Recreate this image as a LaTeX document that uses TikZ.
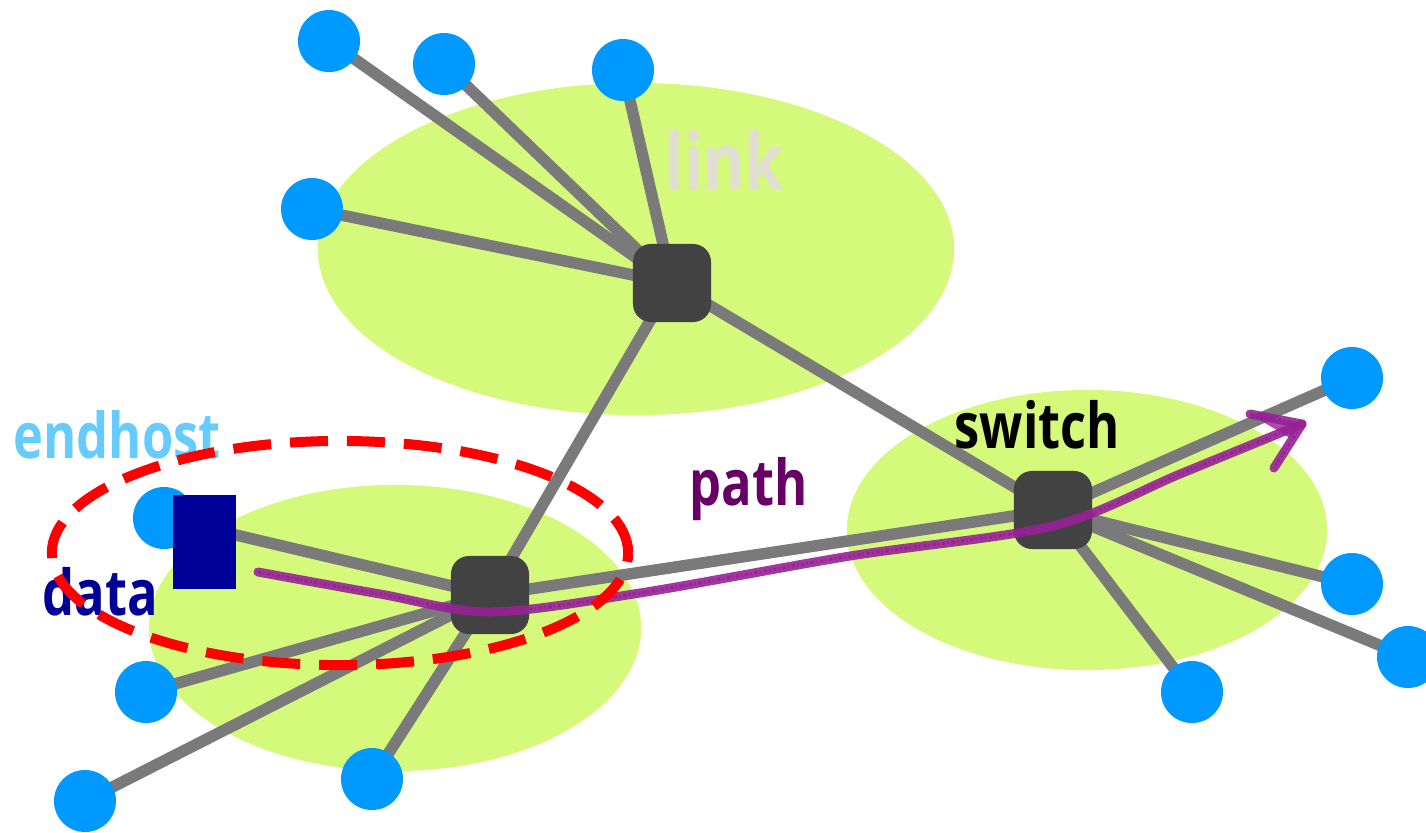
\documentclass[tikz,border=0pt]{standalone}
\usepackage{fontspec}
\newfontfamily\labelfont[FakeStretch=0.8]{Open Sans}

\definecolor{regiongreen}{RGB}{213,249,122}
\definecolor{hostblue}{RGB}{0,153,255}
\definecolor{switchgray}{RGB}{66,66,66}
\definecolor{wiregray}{RGB}{122,122,122}
\definecolor{datanavy}{RGB}{0,0,153}
\definecolor{endhostblue}{RGB}{102,204,255}
\definecolor{pathlabel}{RGB}{102,0,102}
\definecolor{linklabel}{RGB}{226,222,212}
\definecolor{pencil}{RGB}{150,34,150}

\begin{document}
\begin{tikzpicture}[x=0.01cm, y=-0.01cm,
  host/.style={circle, fill=hostblue, minimum size=0.62cm, inner sep=0pt},
  switchbox/.style={rectangle, rounded corners=0.18cm, fill=switchgray,
    minimum size=0.78cm, inner sep=0pt},
  wire/.style={draw=wiregray, line width=0.115cm},
  label/.style={inner sep=0pt, anchor=base west, font=\labelfont\bfseries\fontsize{18pt}{20pt}\selectfont},
  pencilstroke/.style={draw=pencil, line cap=round, line join=round},
  grain/.style={draw=pencil, line width=0.028cm, dash pattern=on 0.9pt off 0.6pt on 0.4pt off 0.8pt, opacity=0.7}
]
\useasboundingbox (0,0) rectangle (1426,832);
\clip (0,0) rectangle (1426,832);

% network regions
\fill[regiongreen] (636,249) ellipse [x radius=3.18cm, y radius=1.66cm];
\fill[regiongreen] (395,628) ellipse [x radius=2.46cm, y radius=1.43cm];
\fill[regiongreen] (1087,530) ellipse [x radius=2.40cm, y radius=1.40cm];

\node[label, text=linklabel, font=\labelfont\bfseries\fontsize{22.5pt}{24pt}\selectfont] (linktext) at (664,190) {link};

% switch and host positions
\coordinate (sA) at (672,283);
\coordinate (sB) at (490,595);
\coordinate (sC) at (1053,510);

\coordinate (hA1) at (329,41);
\coordinate (hA2) at (444,64);
\coordinate (hA3) at (623,70);
\coordinate (hA4) at (312,209);
\coordinate (hB1) at (164,518);
\coordinate (hB2) at (146,692);
\coordinate (hB3) at (85,801);
\coordinate (hB4) at (372,779);
\coordinate (hC1) at (1352,378);
\coordinate (hC2) at (1352,584);
\coordinate (hC3) at (1408,657);
\coordinate (hC4) at (1192,692);

% links
\foreach \h in {hA1,hA2,hA3,hA4} \draw[wire] (\h) -- (sA);
\foreach \h in {hB1,hB2,hB3,hB4} \draw[wire] (\h) -- (sB);
\foreach \h in {hC1,hC2,hC3,hC4} \draw[wire] (\h) -- (sC);
\draw[wire] (sA) -- (sB);
\draw[wire] (sA) -- (sC);
\draw[wire] (sB) -- (sC);

\foreach \h in {hA1,hA2,hA3,hA4,hB1,hB2,hB3,hB4,hC1,hC2,hC3,hC4}
  \node[host] (n\h) at (\h) {};
\foreach \s in {sA,sB,sC}
  \node[switchbox] (n\s) at (\s) {};

% data packet at the sending host
\node[rectangle, fill=datanavy, minimum width=0.63cm, minimum height=0.94cm, inner sep=0pt]
  (datablock) at (204.5,542) {};

% labels
\node[label, text=endhostblue] (endhosttext) at (13,458) {endhost};
\node[label, text=datanavy] (datatext) at (42,615) {data};
\node[label, text=pathlabel] (pathtext) at (689,505) {path};
\node[label, text=black] (switchtext) at (954,448) {switch};

% hand-drawn path from the sender through both switches
\coordinate (p0) at (258,572);
\coordinate (p1) at (380,594);
\coordinate (p2) at (490,612);
\coordinate (p3) at (640,593);
\coordinate (p4) at (850,556);
\coordinate (p5) at (1053,526);
\coordinate (p6) at (1180,474);
\coordinate (p7) at (1302,424);
\coordinate (tipUp) at (1250,414);
\coordinate (tipLow) at (1274,468);

\draw[pencilstroke, line width=0.09cm, opacity=0.9]
  plot[smooth, tension=0.5] coordinates {(p0) (p1) (p2) (p3) (p4) (p5) (p6) (p7)};
\foreach \dy in {-5,5} {
  \draw[grain, yshift=\dy*0.01cm]
    plot[smooth, tension=0.5] coordinates {(p0) (p1) (p2) (p3) (p4) (p5) (p6) (p7)};
}
\fill[pencil, opacity=0.8] (tipUp) -- (p7) -- (1290,438) -- cycle;
\draw[pencilstroke, line width=0.09cm, opacity=0.9] (tipUp) -- (p7) -- (tipLow);
\foreach \dx in {-4,4} {
  \draw[grain, xshift=\dx*0.01cm, yshift=\dx*0.01cm] (tipUp) -- (p7) -- (tipLow);
}

% highlighted endhost
\draw[red, line width=0.1cm, dash pattern=on 10.8pt off 5.4pt]
  (340,553) ellipse [x radius=2.88cm, y radius=1.12cm];
\end{tikzpicture}
\end{document}
